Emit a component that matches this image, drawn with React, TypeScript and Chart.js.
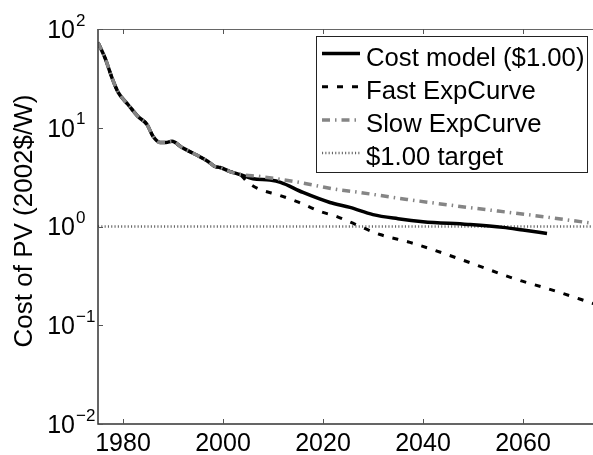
import React, { useEffect, useRef } from 'react';
import { Chart, registerables } from 'chart.js';

Chart.register(...registerables);

// ---- data ----
const histYears = [1975, 1976.4, 1977.8, 1979, 1981, 1983, 1984.8, 1986, 1987.4, 1988.6, 1989.8, 1991.8, 1994.4, 1997, 1998.4, 1999.4, 2001.4, 2003.4];
const histCost = [73, 51, 32, 23, 17.2, 13, 10.8, 8.2, 7.1, 7.1, 7.3, 6.3, 5.4, 4.55, 4.05, 3.96, 3.6, 3.36];

const costYears = [2006, 2009.4, 2011.5, 2016, 2021.4, 2025.4, 2030, 2035, 2040, 2049, 2056, 2060, 2064.8];
const costValues = [3.05, 2.95, 2.8, 2.21, 1.75, 1.56, 1.32, 1.2, 1.12, 1.05, 0.98, 0.92, 0.85];

const fastYears = [2005, 2007.4, 2010.8, 2014.8, 2019.4, 2022.8, 2025.4, 2031.4, 2037.4, 2040.8, 2049.4, 2058.8, 2064.8, 2075];
const fastValues = [2.79, 2.37, 2.11, 1.79, 1.42, 1.26, 1.11, 0.83, 0.69, 0.61, 0.43, 0.29, 0.236, 0.16];

const slowYears = [2007.4, 2015.4, 2022.8, 2026, 2036.8, 2049, 2060.8, 2075];
const slowValues = [3.21, 2.79, 2.37, 2.26, 1.88, 1.56, 1.32, 1.06];

const targetYears = [1975, 2075];
const targetValues = [1, 1];

const seriesNames = ['Cost model ($1.00)', 'Fast ExpCurve', 'Slow ExpCurve', '$1.00 target'];
const xTickLabels = [1980, 2000, 2020, 2040, 2060];
const yTickExponents = [-2, -1, 0, 1, 2];
const yAxisTitle = 'Cost of PV (2002$/W)';

const FONT = '"Liberation Sans", Arial, Helvetica, sans-serif';

const pts = (xs: number[], ys: number[]) => xs.map((x, i) => ({ x, y: ys[i] }));

const decorPlugin = {
  id: 'decor',
  afterDraw(chart: any) {
    const ctx = chart.ctx;
    const { left, right, top, bottom } = chart.chartArea;
    const xs = chart.scales.x;
    const ys = chart.scales.y;
    ctx.save();
    // frame
    ctx.strokeStyle = '#333';
    ctx.lineWidth = 1.5;
    ctx.beginPath();
    ctx.moveTo(left, top);
    ctx.lineTo(left, bottom);
    ctx.lineTo(right, bottom);
    ctx.stroke();
    ctx.lineWidth = 1;
    ctx.strokeStyle = '#666';
    ctx.beginPath();
    ctx.moveTo(left, top + 0.5);
    ctx.lineTo(right, top + 0.5);
    ctx.lineTo(right - 0.5, bottom);
    ctx.stroke();
    // inward ticks
    ctx.strokeStyle = '#555';
    ctx.lineWidth = 1;
    ctx.beginPath();
    xTickLabels.forEach((v) => {
      const px = Math.round(xs.getPixelForValue(v)) + 0.5;
      ctx.moveTo(px, bottom);
      ctx.lineTo(px, bottom - 5);
      ctx.moveTo(px, top);
      ctx.lineTo(px, top + 5);
    });
    yTickExponents.forEach((e) => {
      const py = Math.round(ys.getPixelForValue(Math.pow(10, e))) + 0.5;
      ctx.moveTo(left, py);
      ctx.lineTo(left + 5, py);
    });
    ctx.stroke();
    // y tick labels with superscripts
    ctx.fillStyle = '#000';
    yTickExponents.forEach((e) => {
      const py = ys.getPixelForValue(Math.pow(10, e));
      ctx.font = `25px ${FONT}`;
      ctx.textAlign = 'right';
      ctx.textBaseline = 'middle';
      ctx.fillText('10', 75, py + 2);
      ctx.font = `17px ${FONT}`;
      ctx.textAlign = 'left';
      ctx.fillText(e < 0 ? '\u2212' + String(-e) : String(e), 76, py - 8);
    });
    // y axis title
    ctx.save();
    ctx.translate(25, 221);
    ctx.rotate(-Math.PI / 2);
    ctx.font = `26px ${FONT}`;
    ctx.textAlign = 'center';
    ctx.textBaseline = 'middle';
    ctx.fillText(yAxisTitle, 0, 0);
    ctx.restore();
    // legend
    const bx = 316, by = 36, bw = 271, bh = 136;
    ctx.fillStyle = '#fff';
    ctx.fillRect(bx, by, bw, bh);
    ctx.strokeStyle = '#222';
    ctx.lineWidth = 1;
    ctx.strokeRect(bx + 0.5, by + 0.5, bw, bh);
    chart.data.datasets.forEach((ds: any, i: number) => {
      const base = 65.5 + 33.2 * i;
      const ly = base - 12;
      ctx.save();
      ctx.strokeStyle = ds.borderColor;
      ctx.lineWidth = ds.borderWidth;
      ctx.setLineDash(ds.borderDash || []);
      ctx.beginPath();
      ctx.moveTo(322, ly);
      ctx.lineTo(360, ly);
      ctx.stroke();
      ctx.restore();
      ctx.fillStyle = '#000';
      ctx.font = `25.7px ${FONT}`;
      ctx.textAlign = 'left';
      ctx.textBaseline = 'alphabetic';
      ctx.fillText(ds.label, 366, base);
    });
    ctx.restore();
  },
};

export default function App() {
  const ref = useRef<HTMLCanvasElement | null>(null);
  useEffect(() => {
    if (!ref.current) return;
    const chart = new Chart(ref.current, {
      type: 'line',
      data: {
        datasets: [
          {
            label: seriesNames[0],
            data: pts([...histYears, ...costYears], [...histCost, ...costValues]),
            borderColor: '#000',
            borderWidth: 3.5,
            pointRadius: 0,
            cubicInterpolationMode: 'monotone',
            order: 2,
          },
          {
            label: seriesNames[1],
            data: pts([...histYears, ...fastYears], [...histCost, ...fastValues]),
            borderColor: '#000',
            borderWidth: 3,
            borderDash: [6, 9],
            pointRadius: 0,
            cubicInterpolationMode: 'monotone',
            order: 3,
          },
          {
            label: seriesNames[2],
            data: pts([...histYears, ...slowYears], [...histCost, ...slowValues]),
            borderColor: '#858585',
            borderWidth: 3.5,
            borderDash: [8, 5, 1.5, 5],
            pointRadius: 0,
            cubicInterpolationMode: 'monotone',
            order: 1,
          },
          {
            label: seriesNames[3],
            data: pts(targetYears, targetValues),
            borderColor: '#666',
            borderWidth: 2.5,
            borderDash: [1.1, 2.2],
            pointRadius: 0,
            order: 4,
          },
        ],
      },
      options: {
        animation: false,
        responsive: false,
        maintainAspectRatio: false,
        devicePixelRatio: 1,
        layout: { padding: { top: 29, left: 0, right: 0, bottom: 0 } },
        plugins: { legend: { display: false }, tooltip: { enabled: false } },
        scales: {
          x: {
            type: 'linear',
            min: 1975,
            max: 2075,
            afterBuildTicks: (s: any) => {
              s.ticks = xTickLabels.map((v) => ({ value: v }));
            },
            afterFit: (s: any) => {
              s.height = 31;
            },
            ticks: {
              autoSkip: false,
              maxRotation: 0,
              padding: 5,
              color: '#000',
              font: { family: FONT, size: 25 },
              callback: (v: any) => String(v),
            },
            grid: { display: false, drawTicks: false },
            border: { display: false },
          },
          y: {
            type: 'logarithmic',
            min: 0.01,
            max: 100,
            afterBuildTicks: (s: any) => {
              s.ticks = yTickExponents.map((e) => ({ value: Math.pow(10, e) }));
            },
            afterFit: (s: any) => {
              s.width = 98;
            },
            ticks: { display: false },
            grid: { display: false, drawTicks: false },
            border: { display: false },
          },
        },
      },
      plugins: [decorPlugin],
    } as any);
    return () => chart.destroy();
  }, []);
  return (
    <div style={{ position: 'fixed', left: 0, top: 0, width: 593, height: 455, overflow: 'hidden', background: '#fff' }}>
      <canvas ref={ref} width={598} height={455} style={{ display: 'block' }} />
    </div>
  );
}
